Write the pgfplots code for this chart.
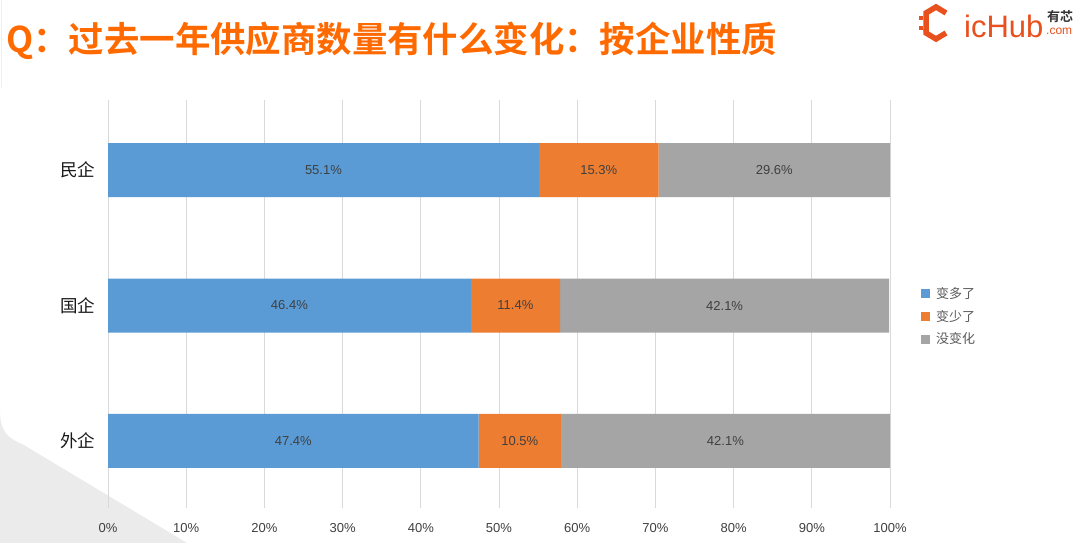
\documentclass[border=0pt]{standalone}
\usepackage{pgfplots}
\pgfplotsset{compat=1.18}
\usepackage{pgfplotstable}
\usepackage{fontspec}
\setmainfont{Liberation Sans}
\newfontfamily\cjk{Noto Sans CJK SC}
\newfontfamily\cjkb{Noto Sans CJK SC Bold}
\definecolor{cblue}{HTML}{5B9BD5}
\definecolor{corange}{HTML}{ED7D31}
\definecolor{cgray}{HTML}{A5A5A5}
\definecolor{ctitle}{HTML}{FF6A00}
\definecolor{clogo}{HTML}{E8501E}
\definecolor{clab}{HTML}{404040}
\pgfplotstableread{
y more less same
0 47.4 10.5 42.1
1 46.4 11.4 42.1
2 55.1 15.3 29.6
}\data
\begin{document}
\begin{tikzpicture}
\begin{scope}[x=1bp,y=1bp]
\useasboundingbox (0,0) rectangle (1080,543);
\fill[white] (0,0) rectangle (1080,543);
% grey background corner
\fill[black!8] (0,0) -- (0,132) .. controls (0,114) and (6,105) .. (22,99) -- (187,0) -- cycle;
\draw[black!6, line width=1.5bp] (1.5,543) -- (1.5,455);
% title
\node[anchor=west, inner sep=0, text=ctitle, font=\cjkb\fontsize{35.4bp}{40bp}\selectfont] at (6,502.5) {Q：过去一年供应商数量有什么变化：按企业性质};
% logo icon
\draw[clogo, line width=5.5bp, line join=miter] (946,530) -- (936,536) -- (926,530) -- (926,512);
\draw[clogo, line width=5.5bp, line join=miter] (926,514) -- (926,510) -- (936,504) -- (946,510);
\fill[clogo] (919,523) rectangle (923,527);
\fill[clogo] (919,513) rectangle (923,517);
\node[anchor=base west, inner sep=0, text=clogo, font=\fontsize{31bp}{31bp}\selectfont] at (964,505) {icHub};
\node[anchor=base west, inner sep=0, text=black!80, font=\cjkb\fontsize{13bp}{13bp}\selectfont] at (1047,521) {有芯};
\node[anchor=base west, inner sep=0, text=clogo, font=\fontsize{12bp}{12bp}\selectfont] at (1046,508) {.com};
\end{scope}
\begin{axis}[
  at={(108bp,35bp)}, anchor=south west,
  scale only axis, width=782bp, height=408bp,
  xbar stacked, bar width=54bp,
  xmin=0, xmax=100, ymin=-0.4945, ymax=2.517,
  xtick={0,10,...,100},
  xticklabel={\pgfmathprintnumber{\tick}\%},
  /pgf/number format/assume math mode=true,
  ytick={0,1,2}, yticklabels={外企,国企,民企},
  yticklabel style={font=\cjk\fontsize{17.5bp}{17.5bp}\selectfont, text=black!90, xshift=-9bp},
  xticklabel style={font=\fontsize{13bp}{13bp}\selectfont, text=clab, yshift=-12bp},
  xmajorgrids, grid style={color=black!15, line width=1bp},
  axis line style={draw=none}, major tick length=0pt,
  point meta=explicit,
  nodes near coords={\pgfmathprintnumber[fixed,fixed zerofill,precision=1]{\pgfplotspointmeta}\%},
  nodes near coords style={anchor=center, font=\fontsize{13bp}{13bp}\selectfont, text=clab},
  legend style={at={(1,0.5)}, anchor=west, xshift=31bp, yshift=-12.5bp, draw=none, fill=none,
    font=\cjk\fontsize{13bp}{13bp}\selectfont, text=black!65, row sep=6bp, inner sep=0pt,
    /tikz/every odd column/.style={column sep=4bp}},
  legend cell align=left,
  legend image code/.code={\fill[#1] (0bp,-4.5bp) rectangle (9bp,4.5bp);},
]
\addplot[fill=cblue, draw=none] table[x=more, y=y, meta=more] {\data};
\addplot[fill=corange, draw=none] table[x=less, y=y, meta=less] {\data};
\addplot[fill=cgray, draw=none] table[x=same, y=y, meta=same] {\data};
\legend{变多了,变少了,没变化}
\end{axis}
\end{tikzpicture}
\end{document}
